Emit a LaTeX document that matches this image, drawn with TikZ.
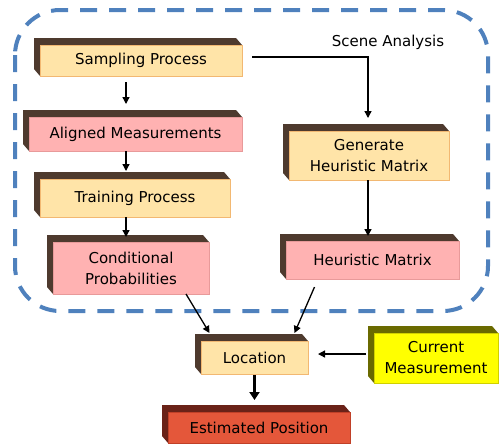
\documentclass[tikz,border=0pt]{standalone}
\usepackage{fontspec}
\setmainfont{DejaVu Sans}
\usetikzlibrary{arrows.meta}
\definecolor{fOrange}{HTML}{FFE4A8}
\definecolor{bOrange}{HTML}{F2B872}
\definecolor{fPink}{HTML}{FFB2B2}
\definecolor{bPink}{HTML}{E89A9A}
\definecolor{fRed}{HTML}{E4573A}
\definecolor{bRed}{HTML}{C04028}
\definecolor{fYellow}{HTML}{FFFF00}
\definecolor{bYellow}{HTML}{D0D000}
\definecolor{sBrown}{HTML}{4E3A2E}
\definecolor{sRed}{HTML}{6A2218}
\definecolor{sOlive}{HTML}{6A6A00}
\definecolor{dashBlue}{HTML}{4F81BD}
\tikzset{
  face/.style={draw, line width=0.8pt, inner sep=2pt, outer sep=0pt, align=center,
    font=\fontsize{15}{21}\selectfont},
  orangebox/.style={fill=fOrange, draw=bOrange},
  pinkbox/.style={fill=fPink, draw=bPink},
  redbox/.style={fill=fRed, draw=bRed},
  yellowbox/.style={fill=fYellow, draw=bYellow},
  arr/.style={line width=1.3pt, -{Triangle[length=7pt,width=7pt]}},
  thickarr/.style={line width=3pt, -{Triangle[length=8pt,width=10pt]}},
  dashbox/.style={draw=dashBlue, line width=4pt, dash pattern=on 17pt off 12pt, rounded corners=45pt},
  lbl/.style={font=\fontsize{15}{18}\selectfont, inner sep=0pt}
}
\newcommand\shbox[8]{%
  \fill[#7] (#2-6,#3-7) -- (#4-6,#3-7) -- (#4,#3) -- (#4,#5) -- (#2,#5) -- (#2-6,#5-7) -- cycle;
  \node[face,#6,minimum width={(#4-#2)*1pt},minimum height={(#5-#3)*1pt}] (#1) at ({(#2+#4)/2},{(#3+#5)/2}) {#8};
}
\begin{document}
\begin{tikzpicture}[x=1pt,y=-1pt]
\useasboundingbox (0,0) rectangle (502,445);
\draw[dashbox] (15,10) rectangle (488,311);
\shbox{samp}{40}{45}{242}{76}{orangebox}{sBrown}{Sampling Process}
\shbox{align}{29}{117}{242}{151}{pinkbox}{sBrown}{Aligned Measurements}
\shbox{train}{40}{179}{230}{217}{orangebox}{sBrown}{Training Process}
\shbox{cond}{53}{242}{209}{294}{pinkbox}{sBrown}{Conditional\\Probabilities}
\shbox{gen}{289}{131}{449}{180}{orangebox}{sBrown}{Generate\\Heuristic Matrix}
\shbox{heur}{286}{241}{459}{279}{pinkbox}{sBrown}{Heuristic Matrix}
\shbox{loc}{201}{341}{308}{374}{orangebox}{sBrown}{Location}
\shbox{est}{168}{412}{350}{443}{redbox}{sRed}{Estimated Position}
\shbox{cur}{374}{333}{498}{383}{yellowbox}{sOlive}{Current\\Measurement}
\node[lbl] (scene) at (388,42) {Scene Analysis};
\coordinate (c1) at (126,0);
\coordinate (bend) at (368,57);
\draw[arr, shorten <=6pt, shorten >=13pt] (samp.south -| c1) -- (align.north -| c1);
\draw[arr, shorten >=8pt] (align.south -| c1) -- (train.north -| c1);
\draw[arr, shorten >=5pt] (train.south -| c1) -- (cond.north -| c1);
\draw[arr, shorten <=10pt, shorten >=13pt] (samp.east |- bend) -- (bend) -- (gen.north -| bend);
\draw[arr, shorten >=5pt] (gen.south -| bend) -- (heur.north -| bend);
\draw[arr] ([xshift=55pt,yshift=0pt]cond.south) -- ([xshift=-45pt,yshift=8pt]loc.north);
\draw[arr] ([xshift=-58pt,yshift=-8pt]heur.south) -- ([xshift=40pt,yshift=8pt]loc.north);
\draw[arr, shorten <=8pt, shorten >=10pt] ([yshift=4pt]cur.west) -- ([yshift=4pt]cur.west -| loc.east);
\draw[thickarr, shorten <=1pt, shorten >=12pt] (loc.south) -- (loc.south |- est.north);
\end{tikzpicture}
\end{document}
